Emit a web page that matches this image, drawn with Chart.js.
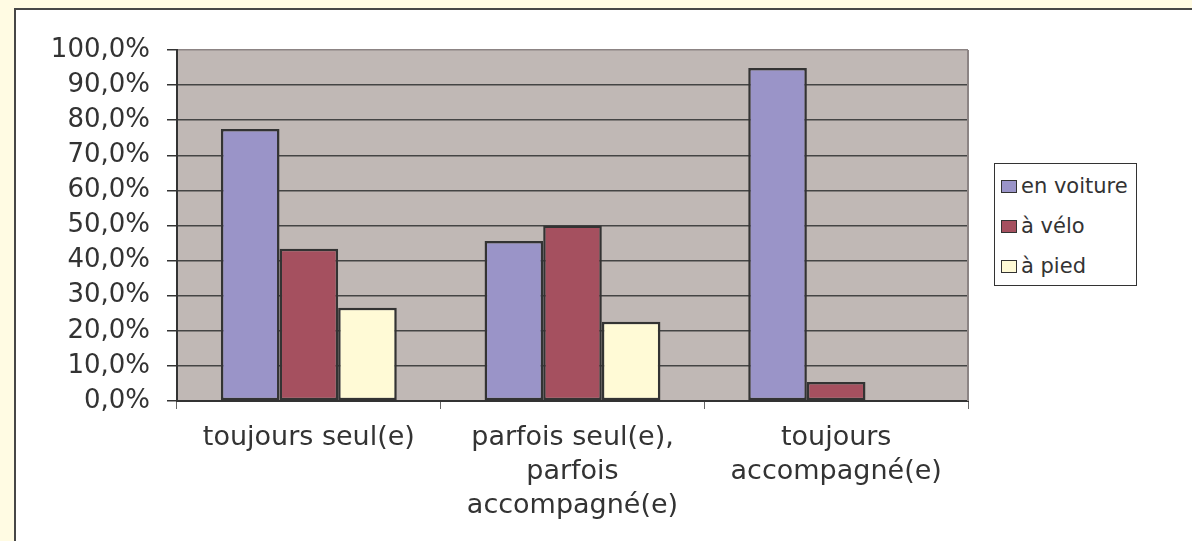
<!DOCTYPE html>
<html lang="fr">
<head>
    <meta charset="UTF-8">
    <title>Graphique</title>
    <script src="https://cdn.jsdelivr.net/npm/chart.js@4.4.1/dist/chart.umd.min.js"></script>
    <style>
        html, body { margin: 0; padding: 0; }
        body { width: 1192px; height: 541px; background: #FFFBE3; position: relative; overflow: hidden; }
        #panneau {
            position: absolute; left: 14px; top: 8px; width: 1200px; height: 560px;
            background: #fff; border-left: 2px solid #474747; border-top: 2px solid #474747;
        }
        #graphique { position: absolute; left: 0; top: 0; }
        #legende {
            position: absolute; left: 994px; top: 163px; width: 141px; height: 121px;
            border: 1.5px solid #333; background: #fff;
            font-family: 'DejaVu Sans', sans-serif; font-size: 21px; color: #333;
        }
        .item { position: absolute; left: 6px; height: 24px; line-height: 24px; white-space: nowrap; }
        .carre { display: inline-block; width: 14px; height: 11px; border: 1.5px solid #333; margin-right: 4px; vertical-align: 0px; }
    </style>
</head>
<body>
    <div id="panneau"></div>
    <canvas id="graphique" width="1192" height="541"></canvas>
    <div id="legende"></div>

    <script>
        // Données
        const categories = [
            ['toujours seul(e)'],
            ['parfois seul(e),', 'parfois', 'accompagné(e)'],
            ['toujours', 'accompagné(e)']
        ];
        const enVoiture = [77.5, 45.6, 94.9];
        const aVelo = [43.4, 50.0, 5.4];
        const aPied = [26.6, 22.6, 0];
        const nomsSeries = ['en voiture', 'à vélo', 'à pied'];
        const couleurs = ['#9A94C8', '#A5505F', '#FFFAD6'];

        Chart.defaults.font.family = "'DejaVu Sans', sans-serif";
        Chart.defaults.color = '#333';

        // Fond gris de la zone de tracé + bord droit
        const fondZone = {
            id: 'fondZone',
            beforeDraw(chart) {
                const { ctx, chartArea: a } = chart;
                ctx.save();
                ctx.fillStyle = '#C0B8B5';
                ctx.fillRect(a.left, a.top, a.right - a.left, a.bottom - a.top);
                ctx.restore();
            },
            beforeDatasetsDraw(chart) {
                const { ctx, chartArea: a } = chart;
                ctx.save();
                ctx.strokeStyle = '#8c8484';
                ctx.lineWidth = 2;
                ctx.beginPath();
                ctx.moveTo(a.right, a.top);
                ctx.lineTo(a.right, a.bottom);
                ctx.stroke();
                ctx.restore();
            }
        };

        const series = [enVoiture, aVelo, aPied].map((valeurs, i) => ({
            label: nomsSeries[i],
            data: valeurs,
            backgroundColor: couleurs[i],
            borderColor: '#333',
            borderWidth: 2.5,
            borderSkipped: false,
            categoryPercentage: 0.667,
            barPercentage: 1
        }));

        const graphique = new Chart(document.getElementById('graphique'), {
            type: 'bar',
            data: { labels: categories, datasets: series },
            options: {
                responsive: false,
                animation: false,
                layout: { padding: { left: 0, top: 50, right: 224, bottom: 0 } },
                plugins: { legend: { display: false }, tooltip: { enabled: false } },
                scales: {
                    x: {
                        afterFit(scale) { scale.height = 140; },
                        grid: { drawOnChartArea: false, drawTicks: true, tickLength: 8, color: '#666' },
                        border: { color: '#333', width: 2 },
                        ticks: { font: { size: 27, lineHeight: 1.26 }, padding: 12, maxRotation: 0, autoSkip: false }
                    },
                    y: {
                        min: 0,
                        max: 100,
                        afterFit(scale) { scale.width = 177; },
                        grid: {
                            color: (c) => c.tick && c.tick.value === 100 ? '#8c8484' : '#444',
                            tickColor: '#333',
                            lineWidth: 1.5,
                            tickLength: 10
                        },
                        border: { color: '#333', width: 2 },
                        ticks: {
                            stepSize: 10,
                            autoSkip: false,
                            padding: 17,
                            font: { size: 26 },
                            callback: (v) => v.toFixed(1).replace('.', ',') + '%'
                        }
                    }
                }
            },
            plugins: [fondZone]
        });

        // Légende
        const legende = document.getElementById('legende');
        graphique.data.datasets.forEach((ds, i) => {
            const item = document.createElement('div');
            item.className = 'item';
            item.style.top = (10 + i * 40) + 'px';
            const carre = document.createElement('span');
            carre.className = 'carre';
            carre.style.background = ds.backgroundColor;
            item.appendChild(carre);
            item.appendChild(document.createTextNode(ds.label));
            legende.appendChild(item);
        });
    </script>
</body>
</html>
